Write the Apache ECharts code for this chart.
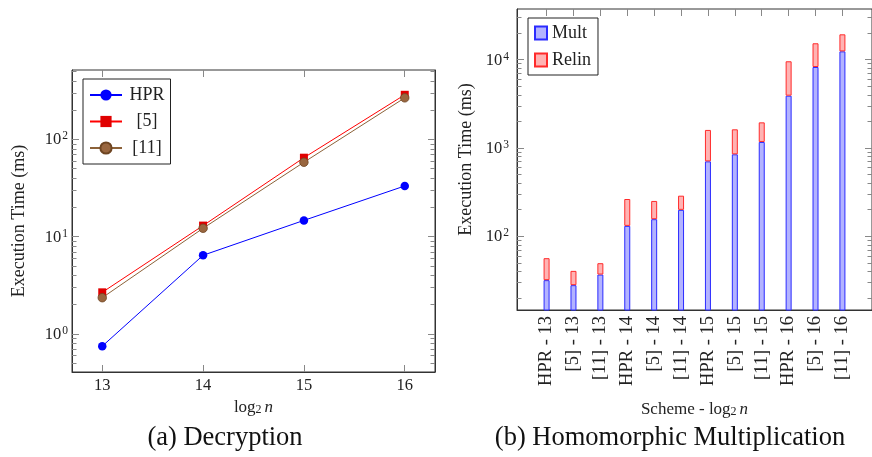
<!DOCTYPE html>
<html>
<head>
<meta charset="utf-8">
<script src="https://cdn.jsdelivr.net/npm/echarts@6/dist/echarts.min.js"></script>
<style>
html,body{margin:0;padding:0;background:#fff;}
#c{width:872px;height:457px;}
</style>
</head>
<body>
<div id="c"></div>
<script>
// ---- Data: (a) Decryption ----
const logN = [13, 14, 15, 16];
const hprDec = [0.75, 6.44, 14.7, 33.2];
const ref5Dec = [2.68, 13.0, 64.8, 287];
const ref11Dec = [2.36, 12.2, 58.2, 267];

// ---- Data: (b) Homomorphic Multiplication ----
const schemes = ['HPR - 13', '[5] - 13', '[11] - 13', 'HPR - 14', '[5] - 14', '[11] - 14',
                 'HPR - 15', '[5] - 15', '[11] - 15', 'HPR - 16', '[5] - 16', '[11] - 16'];
const multVals = [31.8, 27.9, 36.8, 131, 156, 199, 705, 847, 1169, 3909, 8260, 12420];
const relinVals = [24.6, 12.6, 12.7, 133, 95, 89, 895, 779, 781, 5681, 7080, 6950];

// ---- Tick labels ----
const decMajor = [1, 10, 100];
const decMinor = [0.5, 0.6, 0.7, 0.8, 0.9, 2, 3, 4, 5, 6, 7, 8, 9, 20, 30, 40, 50, 60, 70, 80, 90, 200, 300, 400, 500];
const mulMajor = [100, 1000, 10000];
const mulMinor = [20, 30, 40, 50, 60, 70, 80, 90, 200, 300, 400, 500, 600, 700, 800, 900,
                  2000, 3000, 4000, 5000, 6000, 7000, 8000, 9000, 20000, 30000];

const FONT = 'Liberation Serif';
const TICK = '#888';
const FRAME = '#333';
const supRich = {
  m: {fontFamily: FONT, fontSize: 16.5, color: '#222', verticalAlign: 'bottom', lineHeight: 18},
  s: {fontFamily: FONT, fontSize: 11.5, color: '#222', verticalAlign: 'top', lineHeight: 18, padding: [0, 0, 0, 1]}
};
const supFmt = v => '{m|10}{s|' + Math.round(Math.log10(v)) + '}';
const subRich = {
  a: {fontFamily: FONT, fontSize: 17, color: '#222', verticalAlign: 'bottom', lineHeight: 18},
  b: {fontFamily: FONT, fontSize: 12, color: '#222', verticalAlign: 'bottom', lineHeight: 4},
  i: {fontFamily: FONT, fontSize: 17, fontStyle: 'italic', color: '#222', verticalAlign: 'bottom', lineHeight: 18}
};

function logYAxis(grid, pos, min, max, major, minor, labels, isMinor) {
  return {
    type: 'log', gridIndex: grid, position: pos, min: min, max: max, logBase: 10,
    axisLine: {show: !isMinor, onZero: false, lineStyle: {color: FRAME, width: 1}},
    axisTick: {show: true, inside: true, length: isMinor ? 4.5 : 7,
               customValues: isMinor ? minor : major, lineStyle: {color: TICK, width: 1}},
    minorTick: {show: false},
    splitLine: {show: false},
    axisLabel: labels ? {show: true, customValues: major, formatter: supFmt, rich: supRich, margin: labels.margin} : {show: false},
    name: labels ? 'Execution Time (ms)' : '',
    nameLocation: 'middle', nameGap: labels ? labels.nameGap : 0,
    nameTextStyle: {fontFamily: FONT, fontSize: 18, color: '#222'}
  };
}

const option = {
  animation: false,
  backgroundColor: '#fff',
  textStyle: {fontFamily: FONT},
  title: [
    {text: '(a) Decryption', left: 220, top: 420, textAlign: 'center',
     textStyle: {fontFamily: FONT, fontSize: 26.5, fontWeight: 'normal', color: '#111'}},
    {text: '(b) Homomorphic Multiplication', left: 665, top: 420, textAlign: 'center',
     textStyle: {fontFamily: FONT, fontSize: 26.5, fontWeight: 'normal', color: '#111'}}
  ],
  grid: [
    {left: 72, top: 70, right: 437, bottom: 85, show: true, borderColor: FRAME, borderWidth: 1, containLabel: false},
    {left: 517, top: 9, right: -8, bottom: 147, show: true, borderColor: FRAME, borderWidth: 1, containLabel: false}
  ],
  legend: [
    {
      data: ['HPR', '[5]', '[11]'], left: 83, top: 79, orient: 'vertical',
      padding: [7, 6, 7, 6], itemGap: 8.5, itemWidth: 32, itemHeight: 14,
      borderColor: '#222', borderWidth: 1, backgroundColor: '#fff',
      formatter: n => '{c|' + n + '}',
      textStyle: {fontFamily: FONT, fontSize: 18, color: '#222',
                  rich: {c: {fontFamily: FONT, fontSize: 18, color: '#222', width: 40, align: 'center'}}}
    },
    {
      data: ['Mult', 'Relin'], left: 528, top: 18, orient: 'vertical',
      padding: [6, 7, 6, 6], itemGap: 9, itemWidth: 12, itemHeight: 13, icon: 'rect',
      borderColor: '#222', borderWidth: 1, backgroundColor: '#fff',
      textStyle: {fontFamily: FONT, fontSize: 18, color: '#222'}
    }
  ],
  xAxis: [
    {
      type: 'value', gridIndex: 0, position: 'bottom', min: 12.7, max: 16.3,
      axisLine: {show: true, onZero: false, lineStyle: {color: FRAME}},
      axisTick: {show: true, inside: true, length: 7, customValues: logN, lineStyle: {color: TICK}},
      axisLabel: {customValues: logN, fontFamily: FONT, fontSize: 16.5, color: '#222', margin: 5},
      splitLine: {show: false},
      name: '{a|log}{b|2} {i|n}', nameLocation: 'middle', nameGap: 21,
      nameTextStyle: {rich: subRich}
    },
    {
      type: 'value', gridIndex: 0, position: 'top', min: 12.7, max: 16.3,
      axisLine: {show: false},
      axisTick: {show: true, inside: true, length: 7, customValues: logN, lineStyle: {color: TICK}},
      axisLabel: {show: false}, splitLine: {show: false}
    },
    {
      type: 'value', gridIndex: 1, position: 'bottom', min: -1.1, max: 12.1,
      axisLine: {show: true, onZero: false, lineStyle: {color: FRAME}},
      axisTick: {show: false},
      axisLabel: {customValues: schemes.map((s, i) => i), formatter: v => schemes[v], rotate: 90,
                  fontFamily: FONT, fontSize: 18.5, color: '#222', margin: 6},
      splitLine: {show: false},
      name: '{a|Scheme - log}{b|2} {i|n}', nameLocation: 'middle', nameGap: 90,
      nameTextStyle: {rich: subRich}
    },
    {
      type: 'value', gridIndex: 1, position: 'top', min: -1.1, max: 12.1,
      axisLine: {show: false},
      axisTick: {show: true, inside: true, length: 7, customValues: schemes.map((s, i) => i), lineStyle: {color: TICK}},
      axisLabel: {show: false}, splitLine: {show: false}
    }
  ],
  yAxis: [
    logYAxis(0, 'left', 0.407, 516, decMajor, decMinor, {margin: 4, nameGap: 44}, false),
    logYAxis(0, 'left', 0.407, 516, decMajor, decMinor, null, true),
    logYAxis(0, 'right', 0.407, 516, decMajor, decMinor, null, false),
    logYAxis(0, 'right', 0.407, 516, decMajor, decMinor, null, true),
    logYAxis(1, 'left', 14.6, 37500, mulMajor, mulMinor, {margin: 8, nameGap: 42}, false),
    logYAxis(1, 'left', 14.6, 37500, mulMajor, mulMinor, null, true),
    logYAxis(1, 'right', 14.6, 37500, mulMajor, mulMinor, null, false),
    logYAxis(1, 'right', 14.6, 37500, mulMajor, mulMinor, null, true)
  ],
  series: [
    {
      name: 'HPR', type: 'line', xAxisIndex: 0, yAxisIndex: 0,
      data: logN.map((x, i) => [x, hprDec[i]]),
      symbol: 'circle', symbolSize: 8.5,
      lineStyle: {color: '#0000ff', width: 1}, itemStyle: {color: '#0000ff'}
    },
    {
      name: '[5]', type: 'line', xAxisIndex: 0, yAxisIndex: 0,
      data: logN.map((x, i) => [x, ref5Dec[i]]),
      symbol: 'rect', symbolSize: 8,
      lineStyle: {color: '#ff0000', width: 1}, itemStyle: {color: '#e00000'}
    },
    {
      name: '[11]', type: 'line', xAxisIndex: 0, yAxisIndex: 0,
      data: logN.map((x, i) => [x, ref11Dec[i]]),
      symbol: 'circle', symbolSize: 8.5,
      lineStyle: {color: '#8c6239', width: 1}, itemStyle: {color: '#99663f', borderColor: '#6e4522', borderWidth: 0.8}
    },
    {
      // value first so that stacking acts on the value dimension (stacked by index)
      name: 'Mult', type: 'bar', xAxisIndex: 2, yAxisIndex: 4, stack: 'total',
      data: multVals.map((v, i) => [v, i]), encode: {x: 1, y: 0}, barWidth: 6,
      itemStyle: {color: '#b3b3ff', borderColor: '#2b2bff', borderWidth: 1}
    },
    {
      name: 'Relin', type: 'bar', xAxisIndex: 2, yAxisIndex: 4, stack: 'total',
      data: relinVals.map((v, i) => [v, i]), encode: {x: 1, y: 0}, barWidth: 6,
      itemStyle: {color: '#ffb3b3', borderColor: '#ff2b2b', borderWidth: 1}
    }
  ]
};

const chart = echarts.init(document.getElementById('c'), null, {renderer: 'canvas'});
chart.setOption(option);
</script>
</body>
</html>
